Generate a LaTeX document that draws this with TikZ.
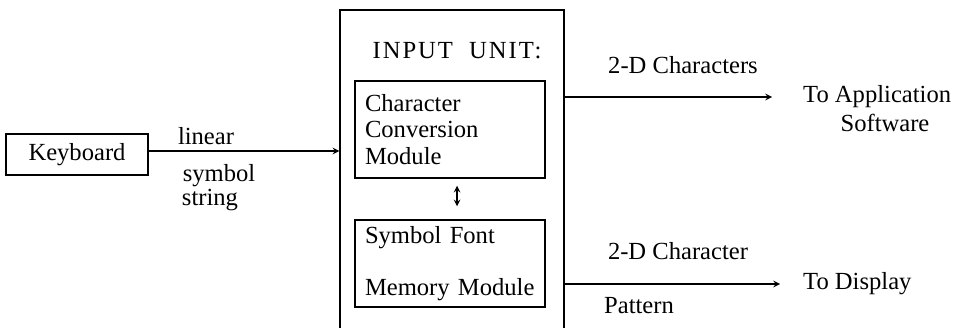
\documentclass[tikz,border=0pt]{standalone}
\usepackage{fontspec}
\setmainfont{Liberation Serif}
\usetikzlibrary{positioning, arrows}
\tikzset{
	>=stealth, % puntas de flecha
	every node/.style={font=\fontsize{14}{15}\selectfont}, % letra del diagrama
	block/.style={draw, line width=0.8pt, rectangle}, % cajas
	module/.style={block, minimum width=3.8cm, inner xsep=0.2cm, text width=3.4cm, align=left}, % modulos internos
	flow/.style={->, line width=0.7pt} % flechas de datos
}

\begin{document}
\begin{tikzpicture}[x=0.02cm, y=-0.02cm]
	\useasboundingbox (0,0) rectangle (954,328);
	\node[block, minimum width=2.84cm, minimum height=0.82cm] (kbd) at (77,154.5) {Keyboard};
	\node[block, minimum width=4.48cm, minimum height=6.8cm] (unit) at (452,180) {};
	\node (title) at (457,51) {\addfontfeatures{LetterSpace=8}INPUT\ \ UNIT:};
	\node[module, minimum height=1.94cm] (ccm) at (450,129.5) {Character\\Conversion\\Module};
	\node[module, minimum height=1.74cm] (sfm) at (450,263.5) {Symbol Font\\[0.52cm]Memory Module};
	% salidas
	\coordinate (append) at (772,97);
	\coordinate (dispend) at (780,284);
	\node[anchor=west] (app) at (797,97) {To Application};
	\node (soft) at (885,123) {Software};
	\node[anchor=west] (disp) at (797,284) {To Display};
	% textos de las flechas
	\node (lin) at (206,136) {linear};
	\node (sym) at (219,176) {symbol};
	\node (str) at (210,200) {string};
	\node (chars) at (683,65) {2-D Characters};
	\node (charp) at (678,251) {2-D Character};
	\node (pat) at (639,306) {Pattern};
	\draw[flow] ([yshift=2pt]kbd.east) -- ([yshift=2pt]kbd.east -| unit.west);
	\draw[<->, line width=0.7pt, shorten <=4pt, shorten >=7.4pt] ([xshift=4pt]ccm.south) -- ([xshift=4pt]sfm.north);
	\draw[flow] (append -| unit.east) -- (append);
	\draw[flow] (dispend -| unit.east) -- (dispend);
\end{tikzpicture}
\end{document}
